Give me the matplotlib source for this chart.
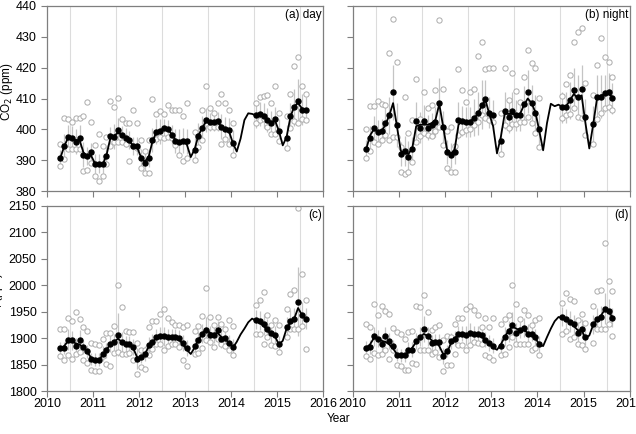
import numpy as np
import pandas as pd
import matplotlib
matplotlib.use('Agg')
import matplotlib.pyplot as plt

nan = np.nan

# ── monthly time axis (Apr 2010 .. Aug 2015), plotted at mid-month ──
months = pd.date_range('2010-04-01', '2015-08-01', freq='MS')
t = months.year + (months.month - 0.5) / 12.0

# ── (a) CO2 day ──
a_med = [390.8, 394.6, 397.4, 397.2, 396.0, 397.3, 391.8, 391.4, 392.7,
         388.9, 388.9, 388.8, 391.5, 397.8, 397.6, 399.7, 398.2, 397.3, 396.5, 394.6, 394.6,
         390.7, 389.2, 390.7, 396.5, 399.2, 399.3, 400.3, 400.0, 398.3, 396.2, 396.0, 396.3,
         396.1, nan, 393.3, 397.9, 400.3, 403.0, 402.4, 402.4, 402.6, 400.9, 400.1, 399.8,
         395.7, nan, nan, nan, nan, nan, 404.5, 405.0, 404.4, 403.0, 402.0, 403.2,
         399.3, nan, 397.3, 404.4, 407.1, 409.3, 406.4, 406.4]
a_fit = [390.8, 394.5, 397.3, 397.0, 396.5, 396.5, 392.5, 391.0, 391.5,
         389.0, 388.5, 388.5, 391.5, 397.0, 398.0, 398.8, 398.3, 397.3, 396.0, 394.8, 394.2,
         391.0, 389.5, 391.0, 396.0, 399.0, 399.7, 400.3, 400.0, 398.5, 396.5, 396.0, 396.0,
         395.0, 391.0, 393.5, 398.0, 400.5, 402.5, 402.6, 402.4, 402.3, 401.0, 400.2, 399.3,
         395.5, 392.8, 397.0, 403.0, 405.2, 405.0, 404.5, 404.5, 404.2, 403.2, 402.3, 402.8,
         399.5, 394.8, 397.5, 404.0, 407.5, 408.5, 406.8, 406.4]
a_hi = [395.4, 403.8, 403.3, 402.4, 403.8, 403.8, 404.4, 408.8, 402.3,
        394.8, 398.4, 394.6, 397.6, 409.1, 407.3, 410.3, 403.5, 402.1, 401.9, 406.2, 402.1,
        396.7, 393.0, 396.7, 409.7, 405.1, 405.9, 404.9, 407.8, 406.2, 406.2, 406.2, 404.3,
        408.6, nan, 399.2, 397.6, 406.4, 414.0, 407.0, 405.4, 408.4, 411.4, 408.4, 406.4,
        401.9, nan, nan, nan, nan, nan, 408.4, 410.6, 410.9, 411.1, 408.4, 414.0,
        405.4, nan, 404.3, 411.4, 420.6, 423.3, 414.1, 411.3]
a_lo = [388.2, 390.5, 393.5, 393.5, 393.5, 393.5, 386.5, 386.9, 389.0,
        384.8, 383.4, 384.9, 388.9, 394.6, 395.9, 395.9, 395.9, 395.4, 389.8, 394.6, 394.0,
        387.6, 385.9, 386.0, 396.5, 397.0, 397.6, 397.2, 397.6, 397.3, 394.8, 391.6, 389.8,
        390.8, nan, 390.2, 394.3, 396.7, 402.1, 400.8, 400.8, 400.8, 395.4, 397.0, 395.4,
        391.6, nan, nan, nan, nan, nan, 401.9, 403.0, 403.3, 400.8, 398.6, 398.6,
        396.3, nan, 393.8, 400.3, 402.8, 401.9, 403.5, 403.0]
a_err = [2.5, 4, 4, 4, 4, 4, 4, 3, 3,
         3, 3, 3, 3, 3, 4, 4, 3, 3, 3, 3, 3,
         3, 3, 3, 4, 4, 4, 3, 3, 3, 4, 4, 4,
         4, nan, 4, 4, 4, 4, 3, 3, 3, 4, 4, 4,
         4, nan, nan, nan, nan, nan, 4, 4, 4, 4, 4, 4,
         4, nan, 4, 4, 6, 7, 5, 4]

# ── (b) CO2 night ──
b_med = [393.5, 397.2, 400.3, 399.1, 399.5, 402.2, 404.6, 412.0, 401.4,
         392.0, 393.0, 391.1, 393.6, 402.8, 400.5, 402.8, 400.5, 401.4, 402.4, 408.5, 400.9,
         392.6, 391.6, 392.6, 403.0, 402.7, 402.4, 402.4, 403.8, 405.2, 408.0, 410.0, 405.4,
         404.6, nan, 396.3, 406.1, 403.9, 406.1, 404.6, 404.6, 408.2, 412.2, 408.5, 405.2,
         400.0, nan, nan, nan, nan, nan, 407.1, 407.1, 409.5, 412.8, 410.6, 413.0,
         403.9, nan, 401.6, 410.6, 410.6, 411.7, 412.2, 410.1]
b_fit = [393.5, 398.0, 400.0, 399.3, 399.3, 401.5, 404.5, 408.5, 401.0,
         393.0, 392.3, 392.0, 394.0, 401.0, 401.5, 401.5, 401.5, 402.0, 403.0, 408.2, 401.0,
         393.5, 392.0, 393.5, 401.5, 402.7, 402.4, 402.6, 403.5, 405.0, 407.5, 409.5, 405.0,
         401.0, 392.2, 397.5, 405.0, 405.0, 405.0, 404.8, 405.0, 407.8, 410.0, 408.5, 405.5,
         399.5, 393.2, 402.0, 408.3, 407.5, 408.0, 407.2, 407.5, 409.5, 411.5, 410.0, 411.0,
         402.0, 393.8, 401.5, 410.0, 411.0, 411.3, 411.5, 410.5]
b_hi = [400.0, 407.6, 407.6, 409.2, 408.1, 407.9, 424.9, 435.8, 421.7,
        394.4, 410.6, 398.9, 403.0, 416.3, 403.4, 412.2, 406.8, 407.9, 412.8, 435.5, 413.1,
        399.6, 400.6, 394.7, 419.5, 412.8, 408.8, 412.2, 413.0, 423.8, 428.2, 419.6, 419.8,
        419.8, nan, 405.2, 420.0, 409.5, 418.2, 412.5, 409.0, 416.9, 425.7, 421.6, 419.8,
        410.3, nan, nan, nan, nan, nan, 410.8, 414.6, 417.6, 428.2, 431.7, 432.8,
        415.1, nan, 411.1, 420.9, 429.7, 423.6, 421.9, 416.9]
b_lo = [390.6, 393.0, 396.0, 395.1, 396.5, 398.2, 396.5, 397.6, 397.6,
        386.3, 385.4, 386.3, 389.5, 396.0, 397.8, 398.7, 398.2, 397.8, 399.6, 400.9, 394.9,
        387.4, 386.3, 386.3, 398.2, 399.2, 399.8, 400.0, 401.4, 402.5, 404.6, 403.6, 403.0,
        402.5, nan, 392.0, 401.4, 400.3, 401.7, 401.7, 402.3, 402.5, 403.9, 402.2, 398.7,
        394.4, nan, nan, nan, nan, nan, 403.6, 404.6, 404.9, 406.8, 404.1, 403.6,
        398.2, nan, 395.1, 403.2, 405.2, 406.8, 407.1, 406.3]
b_err = [3, 4, 4, 4, 4, 5, 6, 9, 7,
         4, 5, 5, 4, 6, 5, 5, 4, 4, 5, 8, 5,
         4, 4, 4, 6, 5, 5, 5, 6, 7, 8, 6, 5,
         5, nan, 4, 6, 5, 6, 5, 5, 6, 7, 6, 6,
         5, nan, nan, nan, nan, nan, 5, 5, 6, 7, 7, 8,
         6, nan, 6, 7, 7, 6, 6, 5]

# ── (c) CH4 day ──
c_med = [1881.5, 1881.5, 1897.3, 1896.0, 1884.7, 1897.3, 1883.4, 1875.2, 1860.7,
         1859.4, 1859.4, 1870.8, 1877.1, 1889.7, 1892.9, 1906.8, 1892.2, 1888.5, 1888.5, 1883.4, 1861.3,
         1864.4, 1870.8, 1886.6, 1892.9, 1902.3, 1903.6, 1903.6, 1902.3, 1902.3, 1902.3, 1901.1, 1891.0,
         1882.1, nan, 1884.7, 1896.0, 1908.7, 1915.0, 1905.5, 1905.5, 1915.0, 1899.2, 1900.5, 1891.0,
         1883.4, nan, nan, nan, nan, nan, 1935.2, 1932.7, 1926.4, 1918.1, 1909.9, 1905.5,
         1889.0, nan, 1921.3, 1932.7, 1937.1, 1968.7, 1943.4, 1937.1]
c_fit = [1880, 1885, 1895, 1894, 1890, 1888, 1882, 1874, 1863,
         1858, 1858, 1868, 1878, 1888, 1893, 1899, 1893, 1889, 1887, 1881, 1864,
         1862, 1870, 1883, 1893, 1900, 1902, 1902, 1901, 1900, 1899, 1897, 1888,
         1878, 1870, 1882, 1897, 1908, 1918, 1910, 1908, 1910, 1902, 1897, 1892,
         1882, 1893, 1907, 1918, 1930, 1937, 1933, 1929, 1923, 1915, 1906, 1903,
         1888, 1895, 1918, 1930, 1937, 1957, 1944, 1935]
c_hi = [1917, 1917, 1939, 1932.7, 1949.7, 1937, 1921.3, 1913, 1891,
        1889.7, 1886.6, 1899, 1910, 1910, 1923, 2000, 1958, 1913.7, 1911.8, 1911.8, 1891,
        1878.3, 1877, 1921.3, 1932.7, 1932.7, 1945.3, 1956, 1939, 1930.8, 1924.5, 1924.5, 1921.3,
        1924.5, nan, 1913, 1922.6, 1942.2, 1994, 1940.3, 1924.5, 1940.3, 1927.6, 1918.1, 1935.2,
        1922.6, nan, nan, nan, nan, nan, 1963.6, 1971.8, 1987.6, 1944.7, 1925.7, 1934,
        1924.5, nan, 1956, 1983.2, 1990.8, 2145.6, 2021, 1973]
c_lo = [1866, 1858, 1867.6, 1861.3, 1869.5, 1874, 1859.4, 1853, 1839,
        1838, 1838, 1865.7, 1850.5, 1846.8, 1872, 1874, 1870.8, 1869.5, 1872, 1858, 1832.9,
        1845.5, 1842.3, 1867.6, 1880.2, 1888.5, 1888.5, 1878.3, 1884.7, 1889.7, 1888.5, 1883.4, 1859.4,
        1846.8, nan, 1869.5, 1872, 1882, 1896, 1892.9, 1883.4, 1899.2, 1889.7, 1884.7, 1877,
        1867.6, nan, nan, nan, nan, nan, 1908.7, 1908.7, 1889.7, 1902.3, 1886.6, 1886,
        1874, nan, 1902.3, 1918.1, 1918.1, 1918.1, 1922.6, 1880.2]
c_err = [12, 12, 20, 18, 15, 18, 14, 12, 12,
         12, 12, 14, 14, 15, 15, 40, 20, 15, 15, 15, 20,
         12, 14, 15, 15, 15, 18, 18, 15, 15, 15, 15, 15,
         15, nan, 15, 15, 18, 25, 18, 15, 18, 18, 15, 15,
         15, nan, nan, nan, nan, nan, 18, 18, 20, 18, 18, 18,
         15, nan, 18, 20, 20, 65, 25, 20]

# ── (d) CH4 night ──
d_med = [1882.2, 1883.4, 1903.6, 1899.2, 1889.7, 1903.6, 1894.8, 1884.7, 1868.9,
         1867.6, 1867.6, 1878.4, 1878.4, 1894.2, 1902.3, 1916.9, 1903.6, 1891.0, 1892.9, 1892.9, 1866.3,
         1875.8, 1894.8, 1899.2, 1908.7, 1908.7, 1905.5, 1910.0, 1908.7, 1907.4, 1905.5, 1897.3, 1891.0,
         1886.0, nan, 1885.0, 1902.3, 1913.0, 1924.5, 1910.0, 1915.0, 1919.4, 1908.7, 1908.7, 1902.3,
         1889.7, nan, nan, nan, nan, nan, 1940.3, 1937.0, 1930.8, 1926.4, 1910.0, 1918.2,
         1902.4, nan, 1926.4, 1937.0, 1940.3, 1956.0, 1951.7, 1939.0]
d_fit = [1882, 1888, 1900, 1900, 1895, 1893, 1888, 1880, 1870,
         1866, 1866, 1874, 1882, 1893, 1902, 1908, 1904, 1896, 1892, 1885, 1870,
         1872, 1890, 1900, 1906, 1908, 1907, 1908, 1908, 1906, 1903, 1897, 1890,
         1882, 1878, 1888, 1902, 1914, 1922, 1918, 1915, 1915, 1910, 1906, 1900,
         1888, 1885, 1902, 1918, 1932, 1940, 1938, 1935, 1930, 1923, 1915, 1915,
         1900, 1905, 1925, 1936, 1942, 1954, 1950, 1940]
d_hi = [1926, 1921.3, 1964.3, 1943.4, 1960.5, 1951.6, 1945.3, 1920, 1911.8,
        1908.7, 1899.2, 1911.8, 1913, 1960.5, 1958, 1981.3, 1949.7, 1915, 1921.3, 1924.5, 1896,
        1903.6, 1902.3, 1926.4, 1939, 1939, 1956, 1960.5, 1952.9, 1943.4, 1921.3, 1939, 1921.3,
        1939, nan, 1926.4, 1937, 1943.4, 2000.3, 1965.5, 1937, 1952.9, 1943.4, 1924.5, 1935.2,
        1939, nan, nan, nan, nan, nan, 1966.8, 1985.7, 1975, 1970.6, 1935.2, 1946.6,
        1929, nan, 1960.5, 1989.5, 1990.8, 2079.3, 2007.9, 1989.5]
d_lo = [1865.7, 1861.3, 1872, 1867.6, 1870.8, 1877, 1861.3, 1878.3, 1848.6,
        1846.8, 1839.2, 1840.4, 1853, 1851.8, 1878.3, 1878.3, 1878.3, 1870.8, 1874, 1864.4, 1837.9,
        1848.6, 1850, 1870.8, 1886.6, 1886.6, 1877, 1886.6, 1892.9, 1891, 1889.7, 1867.6, 1864.4,
        1859.4, nan, 1867.6, 1870.8, 1883.4, 1902.3, 1889.7, 1888.5, 1888.5, 1888.5, 1878.3, 1882.1,
        1867.6, nan, nan, nan, nan, nan, 1907.4, 1913.7, 1899.2, 1902.3, 1888.5, 1886.6,
        1880.2, nan, 1891, 1918.1, 1918.1, 1918.1, 1927.6, 1903.6]
d_err = [12, 14, 18, 16, 15, 18, 15, 12, 12,
         12, 12, 14, 14, 15, 18, 25, 18, 15, 15, 15, 15,
         12, 15, 15, 15, 15, 18, 18, 15, 15, 15, 15, 15,
         15, nan, 15, 18, 20, 25, 18, 15, 18, 18, 15, 15,
         15, nan, nan, nan, nan, nan, 18, 18, 20, 18, 18, 18,
         15, nan, 18, 20, 20, 30, 22, 18]

grid_years = [2010.5, 2011.5, 2012.5, 2013.5, 2014.5, 2015.5]

plt.rcParams['font.family'] = ['Liberation Sans', 'DejaVu Sans']

fig = plt.figure(figsize=(6.36, 4.34), dpi=100)
W, H = 636.0, 434.0
rects = {
    'a': [47 / W, 1 - 191 / H, 276 / W, 185 / H],
    'b': [352.7 / W, 1 - 191 / H, 277 / W, 185 / H],
    'c': [47 / W, 1 - 391 / H, 276 / W, 185 / H],
    'd': [352.7 / W, 1 - 391 / H, 277 / W, 185 / H],
}
panels = [
    ('a', a_med, a_fit, a_hi, a_lo, a_err, '(a) day', (380, 440), 10),
    ('b', b_med, b_fit, b_hi, b_lo, b_err, '(b) night', (380, 440), 10),
    ('c', c_med, c_fit, c_hi, c_lo, c_err, '(c)', (1800, 2150), 50),
    ('d', d_med, d_fit, d_hi, d_lo, d_err, '(d)', (1800, 2150), 50),
]

edge = '#7f7f7f'
for key, med, fit, hi, lo, err, label, ylim, ystep in panels:
    ax = fig.add_axes(rects[key])
    med = np.array(med, dtype=float)
    err = np.array(err, dtype=float)
    for g in grid_years:
        ax.axvline(g, color='#dcdcdc', lw=0.8, zorder=0)
    ax.vlines(t, med - err, med + err, color='#c4c4c4', lw=0.9, zorder=1)
    for s in (hi, lo):
        ax.plot(t, s, 'o', ls='none', mfc='white', mec='#ababab', ms=3.8, mew=0.7, zorder=2)
    ax.plot(t, fit, color='black', lw=1.3, zorder=3)
    ax.plot(t, med, 'o', ls='none', color='black', ms=3.6, zorder=4)

    ax.set_xlim(2010, 2016)
    ax.set_ylim(*ylim)
    ax.set_xticks(range(2010, 2017))
    ax.set_yticks(np.arange(ylim[0], ylim[1] + 1, ystep))
    ax.tick_params(direction='out', length=4, width=0.8, color=edge, labelsize=9)
    ax.tick_params(axis='x', pad=1)
    ax.tick_params(axis='y', pad=3.5)
    for sp in ax.spines.values():
        sp.set_color(edge)
        sp.set_linewidth(0.9)
    if key in ('a', 'b'):
        ax.set_xticklabels([])
    if key in ('b', 'd'):
        ax.set_yticklabels([])
    ax.text(0.996, 0.985, label, transform=ax.transAxes, ha='right', va='top', fontsize=8.5)

fig.text(7 / W, 1 - 92 / H, 'CO$_2$ (ppm)', rotation=90, ha='center', va='center', fontsize=8.5)
fig.text(-3 / W, 1 - 300 / H, 'CH$_4$ (ppb)', rotation=90, ha='center', va='center', fontsize=8.5)
fig.text(339 / W, 1 - 419 / H, 'Year', ha='center', va='center', fontsize=8.5)

fig.savefig('out.png', dpi=100)
